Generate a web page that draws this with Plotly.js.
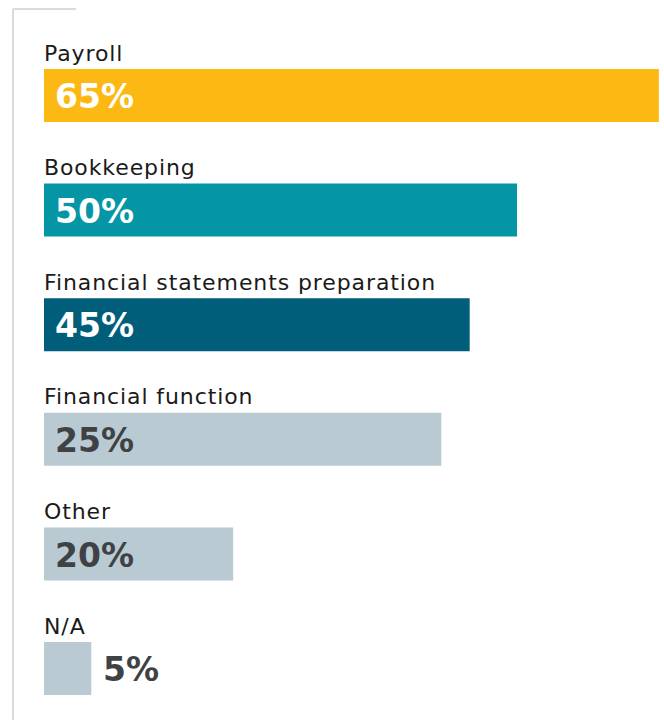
<!DOCTYPE html>
<html><head><meta charset="utf-8">
<script src="https://cdn.plot.ly/plotly-3.0.1.min.js"></script>
<style>
html,body{margin:0;padding:0;background:#fff}#chart{width:664px;height:720px}
g.annotation[data-index="0"] text, g.annotation[data-index="1"] text, g.annotation[data-index="2"] text,
g.annotation[data-index="3"] text, g.annotation[data-index="4"] text, g.annotation[data-index="5"] text{letter-spacing:0.9px}
</style>
</head><body><div id="chart"></div>
<script>
const categories = ["Payroll","Bookkeeping","Financial statements preparation","Financial function","Other","N/A"];
const barValues = [65, 50, 45, 42, 20, 5];
const valueLabels = ["65%","50%","45%","25%","20%","5%"];
const barColors = ["#FDB913","#0596A6","#005E7A","#BACAD3","#BACAD3","#BACAD3"];
const labelColors = ["#ffffff","#ffffff","#ffffff","#3f4244","#3f4244","#3f4244"];
const labelOutside = [false,false,false,false,false,true];

const idx = categories.map((c,i)=>i);
const FONT = "'DejaVu Sans', Inter, sans-serif";

const annotations = [];
categories.forEach((c,i)=>{
  annotations.push({x:0, y:i-0.37, xref:'x', yref:'y', text:c, showarrow:false, xshift:-2, align:'left',
    xanchor:'left', yanchor:'middle', font:{family:FONT, size:22, color:'#1a1a1a'}});
});
categories.forEach((c,i)=>{
  annotations.push({x: labelOutside[i] ? barValues[i] : 0, y:i+0.01, xref:'x', yref:'y', text:'<b>'+valueLabels[i]+'</b>',
    showarrow:false, xanchor:'left', yanchor:'middle', xshift: labelOutside[i] ? 10 : 9, align:'left',
    font:{family:FONT, size:33, color:labelColors[i]}});
});

const trace = {type:'bar', orientation:'h', x:barValues, y:idx,
  marker:{color:barColors, line:{width:0}}, hoverinfo:'none', width:0.462};

const layout = {
  width:664, height:720, margin:{l:44, r:0, t:0, b:0},
  paper_bgcolor:'#fff', plot_bgcolor:'#fff', showlegend:false,
  xaxis:{range:[0, 65.54], visible:false, fixedrange:true},
  yaxis:{range:[5.449, -0.833], visible:false, fixedrange:true},
  annotations: annotations,
  shapes:[
    {type:'line', xref:'paper', yref:'paper', x0:-31/620, x1:-31/620, y0:1-9/720, y1:0, line:{color:'#d5dde2', width:2}},
    {type:'line', xref:'paper', yref:'paper', x0:-31/620, x1:32/620, y0:1-9/720, y1:1-9/720, line:{color:'#d5dde2', width:2}}
  ]
};
Plotly.newPlot('chart', [trace], layout, {staticPlot:true, displayModeBar:false});
</script></body></html>
